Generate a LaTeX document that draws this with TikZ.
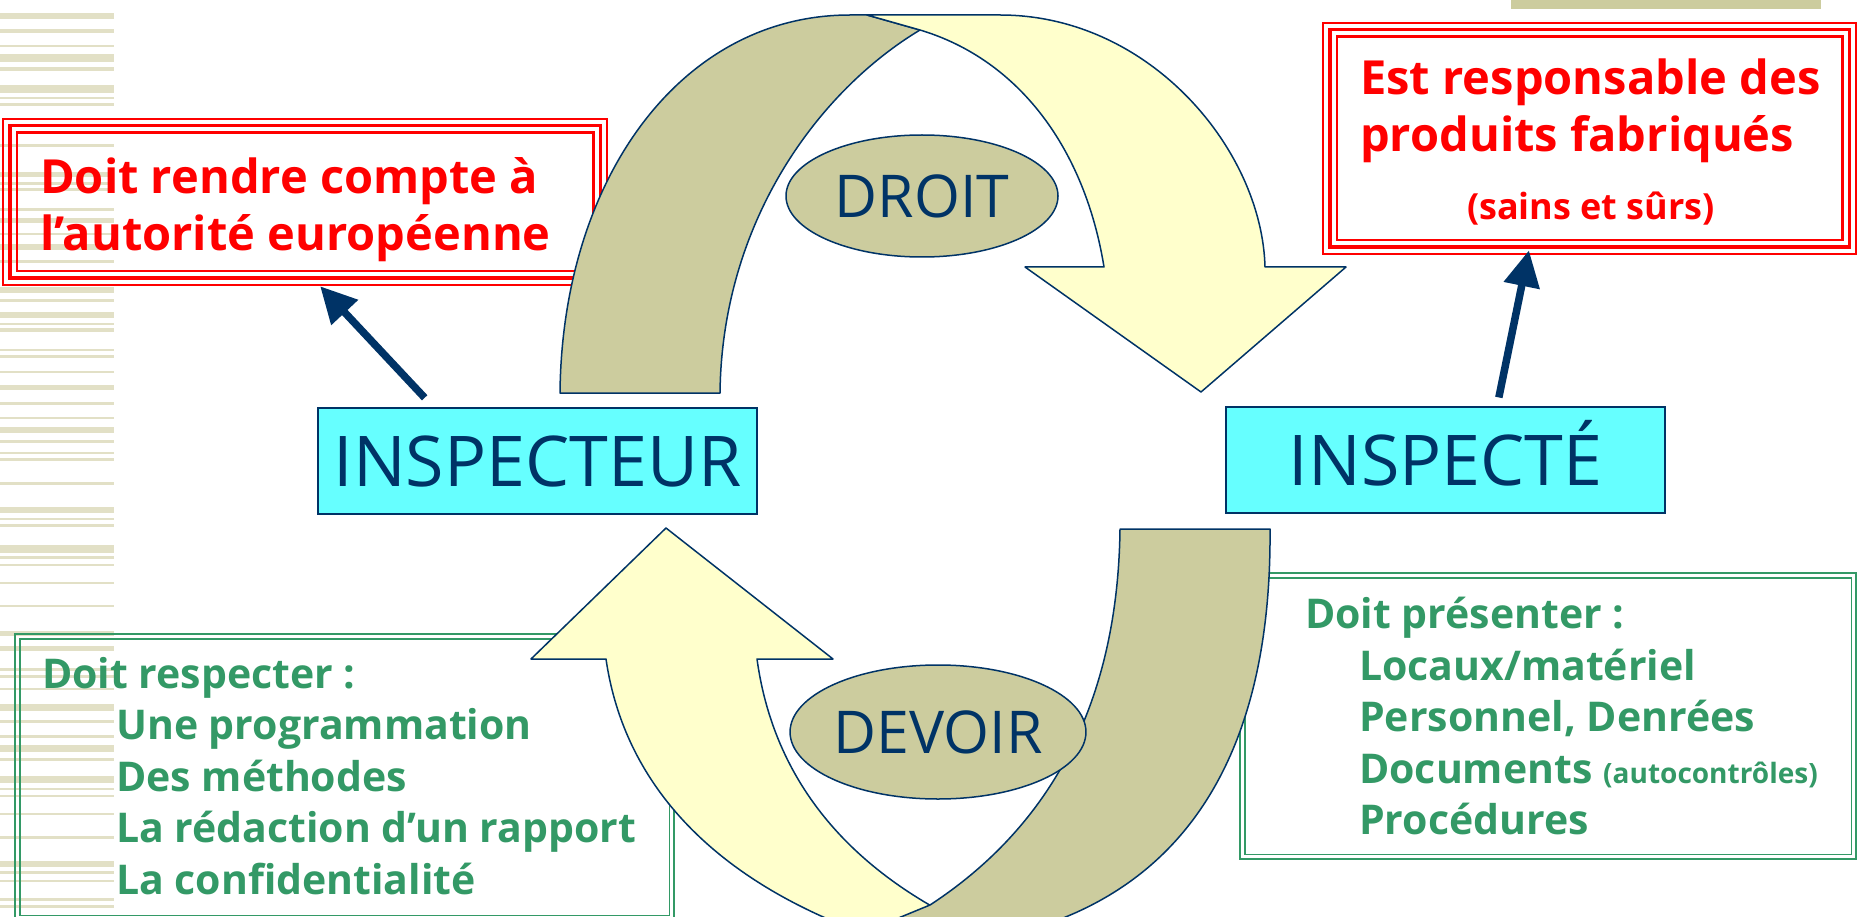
\documentclass[tikz,border=0pt]{standalone}
\usepackage{fontspec}
\setmainfont{Open Sans}
\usetikzlibrary{shapes.geometric,arrows.meta,calc}

\definecolor{rayure}{RGB}{226,224,198}
\definecolor{kaki}{RGB}{204,204,158}
\definecolor{creme}{RGB}{255,255,204}
\definecolor{turquoise}{RGB}{102,255,255}
\definecolor{marine}{RGB}{0,51,102}
\definecolor{vert}{RGB}{51,153,102}

\tikzstyle{acteur}=[draw=marine,fill=turquoise,line width=1.5pt,minimum width=439pt,minimum height=106pt,inner sep=0pt,text=marine,font=\fontsize{70}{70}\selectfont,text height=50pt,text depth=0pt]
\tikzstyle{bulle}=[ellipse,draw=marine,fill=kaki,line width=1.5pt,minimum width=272pt,inner sep=0pt,text=marine,font=\fontsize{59}{59}\selectfont]
\tikzstyle{cadrerouge}=[draw=red,line width=2.5pt,inner sep=0pt]
\tikzstyle{cadrevert}=[draw=vert,line width=2.5pt,inner sep=0pt]
\tikzstyle{texterouge}=[text=red,font=\bfseries\fontsize{47}{57}\selectfont,align=left,inner sep=0pt,anchor=north west]
\tikzstyle{textevert}=[text=vert,font=\bfseries\fontsize{41}{51.5}\selectfont,align=left,inner sep=0pt,anchor=north west]
\tikzstyle{ruban}=[draw=marine,line width=1.5pt,line join=round]
\tikzstyle{fleche}=[draw=marine,line width=7.5pt,-{Triangle[length=36pt,width=35pt]}]

\begin{document}
\begin{tikzpicture}[x=1pt,y=-1pt]
    \useasboundingbox (0,0) rectangle (1857,917);
    \clip (0,0) rectangle (1857,917);
    % rayures
    \foreach \y/\h in {13/6, 29/4, 45/2, 54/8, 67/4, 85/8, 97/2, 103/3, 144/3, 172/5, 182/3, 188/3, 208/3, 218/5, 233/2, 244/6, 260/3, 287/6, 299/3, 312/6, 323/1.5, 328/4, 349/2, 355/3, 371/2, 385/5, 402/3, 417/1.5, 427/6, 440/3, 452/1.5, 458/3, 482/3, 507/6, 518/2, 524/3, 545/8, 556/3, 564/2, 582/2, 605/2, 631/5, 646/5, 668/3, 675/3, 688/2, 704/7, 720/3, 735/3, 745/7, 758/3, 776/7, 788/2, 795/2, 813/2, 836/3, 861/6, 871/3, 880/2, 898/3, 905/3}
        \fill[rayure] (0,\y) rectangle (114,\y+\h);
    \fill[kaki] (1511,0) rectangle (1821,9);
    % cadres
    \node[cadrerouge,minimum width=604pt,minimum height=166pt] (autorite) at (305,202) {};
    \node[cadrerouge,minimum width=533pt,minimum height=231pt] (produits) at (1589.5,138.5) {};
    \foreach \c in {autorite,produits}
        \foreach \d/\w in {8/3.5,15/2.5}
            \draw[red,line width=\w pt] ([shift={(\d,\d)}]\c.north west) rectangle ([shift={(-\d,-\d)}]\c.south east);
    \node[cadrevert,minimum width=659pt,minimum height=286pt] (respecter) at (344.5,777) {};
    \node[cadrevert,minimum width=616pt,minimum height=286pt] (presenter) at (1548,716) {};
    \foreach \c in {respecter,presenter}
        \draw[vert,line width=1.5pt] ([shift={(6,6)}]\c.north west) rectangle ([shift={(-6,-6)}]\c.south east);
    % textes
    \node[texterouge] (rendre) at (40,157) {Doit rendre compte à\\l’autorité européenne};
    \node[texterouge] (responsable) at (1360,59) {Est responsable des\\produits fabriqués};
    \node[text=red,font=\bfseries\fontsize{36}{36}\selectfont,anchor=base] (sains) at (1591,220) {(sains et sûrs)};
    \node[textevert] (doitrespecter) at (42,657) {Doit respecter :\\\hspace*{74pt}Une programmation\\\hspace*{74pt}Des méthodes\\\hspace*{74pt}La rédaction d’un rapport\\\hspace*{74pt}La confidentialité};
    \node[textevert] (doitpresenter) at (1305,597) {Doit présenter :\\\hspace*{54pt}Locaux/matériel\\\hspace*{54pt}Personnel, Denrées\\\hspace*{54pt}Documents {\fontsize{28}{28}\selectfont(autocontrôles)}\\\hspace*{54pt}Procédures};
    % arc du haut
    \filldraw[ruban,fill=kaki] (560,393) .. controls (562,180) and (680,15) .. (850,15) -- (867,15) -- (920,30) .. controls (820,90) and (722,220) .. (720,393) -- cycle;
    \filldraw[ruban,fill=creme] (867,15) -- (1000,15) .. controls (1150,15) and (1262,150) .. (1265,267) -- (1346,267) -- (1201,392) -- (1025,267) -- (1104,267) .. controls (1085,150) and (1020,60) .. (920,30) -- cycle;
    % arc du bas
    \filldraw[ruban,fill=creme] (666,528) -- (833,659) -- (757,659) .. controls (775,790) and (860,880) .. (990,935) -- (990,960) -- (860,960) -- (860,932) .. controls (720,880) and (625,790) .. (606,659) -- (531,659) -- cycle;
    \filldraw[ruban,fill=kaki] (1120,529) -- (1270,529) .. controls (1272,760) and (1180,905) .. (985,940) -- (845,940) -- (930,905) .. controls (1060,820) and (1118,690) .. (1120,529) -- cycle;
    % bulles
    \node[bulle,minimum height=122pt] (droit) at (922,196) {DROIT};
    \node[bulle,minimum height=134pt] (devoir) at (938,732) {DEVOIR};
    % acteurs
    \node[acteur] (inspecteur) at (537.5,461) {INSPECTEUR};
    \node[acteur] (inspecte) at (1445.5,460) {INSPECTÉ};
    % fleches
    \draw[fleche,shorten <=13pt] ($(inspecteur.north west)!0.264!(inspecteur.north east)$) -- ($(autorite.south west)!0.525!(autorite.south east)$);
    \draw[fleche,shorten <=9pt,shorten >=-5pt] ($(inspecte.north west)!0.617!(inspecte.north east)$) -- ($(produits.south west)!0.385!(produits.south east)$);
\end{tikzpicture}
\end{document}
